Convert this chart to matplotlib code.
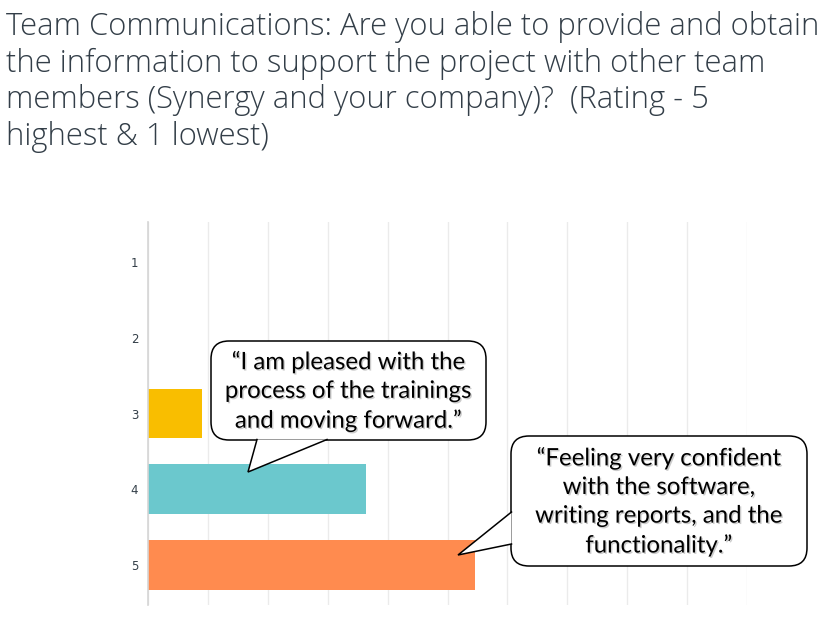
import matplotlib
matplotlib.use("Agg")
import matplotlib.pyplot as plt
from matplotlib.patches import FancyBboxPatch, Polygon
import matplotlib.patheffects as pe

categories = ["1", "2", "3", "4", "5"]
percent = [0.0, 0.0, 9.09, 36.36, 54.55]
colors = ["#4a90d9", "#a0a0a0", "#F9BE00", "#6BC8CD", "#FF8B4F"]
title = ("Team Communications: Are you able to provide and obtain\n"
         "the information to support the project with other team\n"
         "members (Synergy and your company)?  (Rating - 5\n"
         "highest & 1 lowest)")
quote1 = "\u201cI am pleased with the\nprocess of the trainings\nand moving forward.\u201d"
quote2 = "\u201cFeeling very confident\nwith the software,\nwriting reports, and the\nfunctionality.\u201d"

W, H = 836, 625
fig = plt.figure(figsize=(W / 100, H / 100), dpi=100)
fig.patch.set_facecolor("white")

ax = fig.add_axes([148 / W, 1 - 605 / H, (747 - 148) / W, (605 - 222) / H])
ypos = list(range(len(categories)))
ax.barh(ypos, percent, height=0.66, color=colors, zorder=3)
ax.set_ylim(4.535, -0.535)
ax.set_xlim(0, 100)
ax.set_xticks(range(0, 101, 10))
ax.set_xticklabels([])
ax.tick_params(axis="x", length=0)
ax.set_yticks(ypos)
ax.set_yticklabels(categories, fontsize=8.5, color="#333e48", family="DejaVu Sans")
ax.tick_params(axis="y", length=0, pad=7)
ax.grid(axis="x", color="#ebebeb", linewidth=1, zorder=0)
for s in ["top", "right", "bottom"]:
    ax.spines[s].set_visible(False)
ax.spines["left"].set_color("#d5d5d5")
ax.spines["left"].set_linewidth(1.2)
ax.spines["left"].set_zorder(4)

fig.text(6 / W, 1 - 11 / H, title, ha="left", va="top", fontsize=22.3,
         family="Open Sans", fontweight="light", color="#333e48", linespacing=1.19)

# overlay for callouts in pixel coordinates
ov = fig.add_axes([0, 0, 1, 1])
ov.set_xlim(0, W)
ov.set_ylim(H, 0)
ov.axis("off")


def callout(x0, y0, x1, y1, poly, text, fs):
    box = FancyBboxPatch((x0, y0), x1 - x0, y1 - y0,
                         boxstyle="round,pad=0,rounding_size=18",
                         facecolor="white", edgecolor="black", linewidth=1.1, zorder=5)
    ov.add_patch(box)
    ov.add_patch(Polygon(poly, closed=True, facecolor="white", edgecolor="none", zorder=6))
    ov.plot([poly[0][0], poly[1][0], poly[2][0]], [poly[0][1], poly[1][1], poly[2][1]],
            color="black", linewidth=1.1, zorder=7, solid_joinstyle="miter")
    ov.text((x0 + x1) / 2, (y0 + y1) / 2 + 1, text, ha="center", va="center",
            fontsize=fs, family="Lato", color="black", linespacing=1.45, zorder=8,
            path_effects=[pe.withSimplePatchShadow(offset=(1, -1), shadow_rgbFace="#999999", alpha=0.5)])


callout(211, 341, 486, 440, [(257, 439.5), (248, 472), (327, 439.5)], quote1, 17.3)
callout(511, 436, 807, 566, [(511.5, 512), (458, 555), (511.5, 544)], quote2, 17.3)

fig.savefig("out.png", dpi=100, facecolor="white")
